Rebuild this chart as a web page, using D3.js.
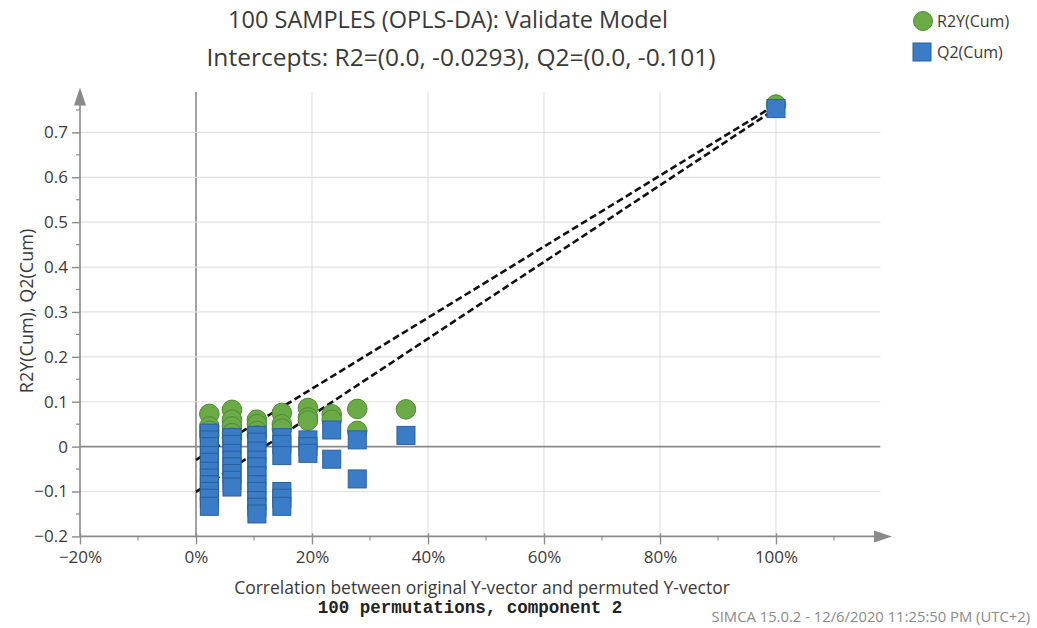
<!DOCTYPE html>
<html>
<head>
<meta charset="utf-8">
<script src="https://cdn.jsdelivr.net/npm/d3@7"></script>
<style>
  html, body { margin: 0; padding: 0; background: #fff; }
  svg { display: block; font-family: "Open Sans", "Noto Sans", sans-serif; }
</style>
</head>
<body>
<svg id="chart" width="1037" height="628"></svg>
<script>
// ---- data ----
const titleLines = ["100 SAMPLES (OPLS-DA): Validate Model", "Intercepts: R2=(0.0, -0.0293), Q2=(0.0, -0.101)"];
const xLabel = "Correlation between original Y-vector and permuted Y-vector";
const xSubLabel = "100 permutations, component 2";
const yLabel = "R2Y(Cum), Q2(Cum)";
const footer = "SIMCA 15.0.2 - 12/6/2020 11:25:50 PM (UTC+2)";
const seriesNames = ["R2Y(Cum)", "Q2(Cum)"];
const xTicks = [-20, 0, 20, 40, 60, 80, 100];
const yTicks = [-0.2, -0.1, 0, 0.1, 0.2, 0.3, 0.4, 0.5, 0.6, 0.7];

// permuted R2Y points: correlation (%) and value
const r2x = [2.3, 2.3, 2.3, 2.3, 6.2, 6.2, 6.2, 6.2, 6.2, 10.5, 10.5, 10.5, 10.5, 14.8, 14.8, 14.8, 19.3, 19.3, 19.3, 23.4, 23.4, 27.8, 27.8, 36.2, 100];
const r2y = [0.073, 0.045, 0.035, 0.025, 0.082, 0.060, 0.045, 0.030, 0.020, 0.060, 0.050, 0.035, 0.025, 0.075, 0.050, 0.040, 0.086, 0.065, 0.058, 0.072, 0.060, 0.084, 0.035, 0.083, 0.762];
// permuted Q2 points
const q2x = [2.3, 2.3, 2.3, 2.3, 2.3, 2.3, 2.3, 2.3, 2.3, 2.3, 2.3,
             6.2, 6.2, 6.2, 6.2, 6.2, 6.2, 6.2, 6.2,
             10.5, 10.5, 10.5, 10.5, 10.5, 10.5, 10.5, 10.5, 10.5, 10.5, 10.5,
             14.8, 14.8, 14.8, 14.8, 14.8, 14.8,
             19.3, 19.3, 19.3, 23.4, 23.4, 27.8, 27.8, 36.2, 100];
const q2y = [0.030, 0.015, 0.000, -0.020, -0.035, -0.055, -0.070, -0.085, -0.100, -0.115, -0.133,
             0.020, 0.005, -0.015, -0.030, -0.045, -0.060, -0.075, -0.090,
             0.025, 0.010, -0.010, -0.030, -0.045, -0.065, -0.085, -0.100, -0.120, -0.135, -0.150,
             0.020, 0.005, -0.020, -0.100, -0.115, -0.133,
             0.015, 0.000, -0.015, 0.037, -0.028, 0.015, -0.072, 0.025, 0.753];
// regression lines: [x0, y0, x1, y1]
const r2Line = [0, -0.0293, 100, 0.762];
const q2Line = [0, -0.101, 100, 0.753];

// ---- drawing ----
const svg = d3.select("#chart");
const x = d3.scaleLinear().domain([-20, 120]).range([80, 892]);
const y = d3.scaleLinear().domain([-0.2, 0.8]).range([536.4, 87.5]);
const axisColor = "#8a8a8a";
const textColor = "#3a3a3a";

// grid
const g = svg.append("g");
g.selectAll(".vg").data(xTicks.filter(d => d > -20)).join("line")
  .attr("x1", d => x(d)).attr("x2", d => x(d))
  .attr("y1", y(0.79)).attr("y2", y(-0.2))
  .attr("stroke", d => d === 0 ? "#8a8a8a" : "#e2e2e2")
  .attr("stroke-width", d => d === 0 ? 1.6 : 1.2);
g.selectAll(".hg").data(yTicks.filter(d => d > -0.2)).join("line")
  .attr("x1", x(-20)).attr("x2", x(118))
  .attr("y1", d => y(d)).attr("y2", d => y(d))
  .attr("stroke", d => d === 0 ? "#8a8a8a" : "#e2e2e2")
  .attr("stroke-width", d => d === 0 ? 1.6 : 1.2);

// axes using d3 axis
const yAxis = d3.axisLeft(y).tickValues(yTicks).tickSize(8).tickPadding(4)
  .tickFormat(d => d === 0 ? "0" : d3.format(".1f")(d).replace("-", "\u2212"));
const yg = svg.append("g").attr("transform", `translate(${x(-20)},0)`).call(yAxis);
yg.select(".domain").remove();
yg.selectAll(".tick line").attr("stroke", axisColor).attr("stroke-width", 1.4);
yg.selectAll(".tick text").attr("font-size", 17).attr("fill", textColor).attr("font-family", "'Open Sans', sans-serif");
const yMinor = d3.range(-0.15, 0.76, 0.1);
svg.append("g").selectAll("line").data(yMinor).join("line")
  .attr("x1", x(-20) - 4).attr("x2", x(-20))
  .attr("y1", d => y(d)).attr("y2", d => y(d))
  .attr("stroke", axisColor).attr("stroke-width", 1.2);

const xAxis = d3.axisBottom(x).tickValues(xTicks).tickSize(8).tickPadding(7)
  .tickFormat(d => (d < 0 ? "\u2212" + Math.abs(d) : d) + "%");
const xg = svg.append("g").attr("transform", `translate(0,${y(-0.2)})`).call(xAxis);
xg.select(".domain").remove();
xg.selectAll(".tick line").attr("stroke", axisColor).attr("stroke-width", 1.4).attr("y1", -3);
xg.selectAll(".tick text").attr("font-size", 17).attr("fill", textColor).attr("font-family", "'Open Sans', sans-serif");
const xMinor = d3.range(-10, 111, 20);
svg.append("g").selectAll("line").data(xMinor).join("line")
  .attr("x1", d => x(d)).attr("x2", d => x(d))
  .attr("y1", y(-0.2)).attr("y2", y(-0.2) + 4)
  .attr("stroke", axisColor).attr("stroke-width", 1.2);

// axis lines with arrows
svg.append("line").attr("x1", x(-20)).attr("x2", x(-20)).attr("y1", y(-0.2)).attr("y2", y(0.78))
  .attr("stroke", axisColor).attr("stroke-width", 1.6);
svg.append("path")
  .attr("d", `M${x(-20)},${y(0.8)} L${x(-20) - 6},${y(0.8) + 18} L${x(-20) + 6},${y(0.8) + 18} Z`)
  .attr("fill", axisColor);
svg.append("line").attr("x1", x(-20)).attr("x2", x(117)).attr("y1", y(-0.2)).attr("y2", y(-0.2))
  .attr("stroke", axisColor).attr("stroke-width", 1.6);
svg.append("path")
  .attr("d", `M${x(120)},${y(-0.2)} L${x(120) - 18},${y(-0.2) - 6} L${x(120) - 18},${y(-0.2) + 6} Z`)
  .attr("fill", axisColor);

// regression lines
[r2Line, q2Line].forEach(l => {
  svg.append("line")
    .attr("x1", x(l[0])).attr("y1", y(l[1])).attr("x2", x(l[2])).attr("y2", y(l[3]))
    .attr("stroke", "#111").attr("stroke-width", 2.6).attr("stroke-dasharray", "7,3.5");
});

// points
const green = "#6aab47", greenStroke = "#4f8a32";
const blue = "#3b7cc6", blueStroke = "#2a5f9e";
const r2pts = r2x.map((d, i) => [d, r2y[i]]);
const q2pts = q2x.map((d, i) => [d, q2y[i]]);
svg.append("g").selectAll("circle").data(r2pts).join("circle")
  .attr("cx", d => x(d[0])).attr("cy", d => y(d[1])).attr("r", 9.8)
  .attr("fill", green).attr("stroke", greenStroke).attr("stroke-width", 1);
const sq = 18;
svg.append("g").selectAll("rect").data(q2pts).join("rect")
  .attr("x", d => x(d[0]) - sq / 2).attr("y", d => y(d[1]) - sq / 2)
  .attr("width", sq).attr("height", sq)
  .attr("fill", blue).attr("stroke", blueStroke).attr("stroke-width", 1);

// titles
svg.append("text").attr("x", 448).attr("y", 28).attr("text-anchor", "middle")
  .attr("font-size", 23.5).attr("fill", textColor).text(titleLines[0]);
svg.append("text").attr("x", 461).attr("y", 66).attr("text-anchor", "middle")
  .attr("font-size", 24.5).attr("fill", textColor).text(titleLines[1]);

// axis labels
svg.append("text").attr("x", 482).attr("y", 594).attr("text-anchor", "middle")
  .attr("font-size", 17.5).attr("fill", textColor).text(xLabel);
svg.append("text").attr("x", 470).attr("y", 613).attr("text-anchor", "middle")
  .attr("font-family", "'Liberation Mono', 'DejaVu Sans Mono', monospace").attr("font-weight", "bold")
  .attr("font-size", 17.5).attr("fill", "#222").text(xSubLabel);
svg.append("text").attr("transform", "translate(33,311) rotate(-90)").attr("text-anchor", "middle")
  .attr("font-size", 18).attr("fill", textColor).text(yLabel);

// legend
svg.append("circle").attr("cx", 923).attr("cy", 21).attr("r", 9.5)
  .attr("fill", green).attr("stroke", greenStroke);
svg.append("text").attr("x", 937).attr("y", 27).attr("font-size", 16).attr("fill", textColor).text(seriesNames[0]);
svg.append("rect").attr("x", 913).attr("y", 43).attr("width", 18).attr("height", 18)
  .attr("fill", blue).attr("stroke", blueStroke);
svg.append("text").attr("x", 937).attr("y", 58).attr("font-size", 16).attr("fill", textColor).text(seriesNames[1]);

// footer
svg.append("text").attr("x", 1030).attr("y", 622).attr("text-anchor", "end")
  .attr("font-size", 14.8).attr("fill", "#8a8a8a").text(footer);
</script>
</body>
</html>
